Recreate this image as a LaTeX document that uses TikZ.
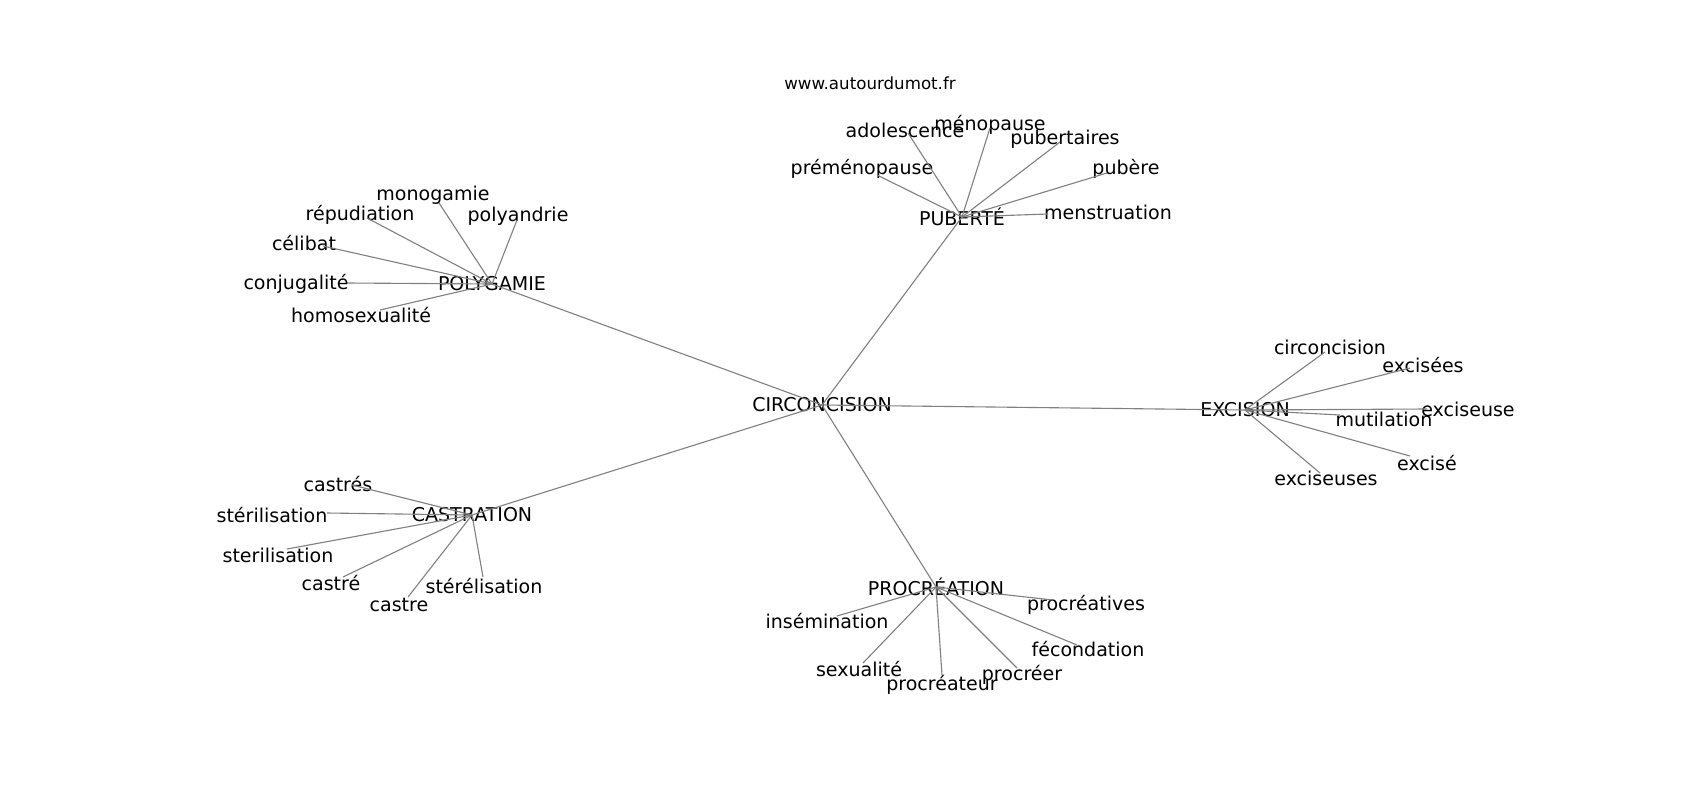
\documentclass[tikz,border=0pt]{standalone}
\usepackage{fontspec}
\setmainfont{DejaVu Sans}
\tikzstyle{word} = [inner sep=0pt, text=black, yshift=-1.4pt, font=\fontsize{13.7}{16}\selectfont]
\tikzstyle{hub} = [inner sep=0pt, text=black, font=\fontsize{13.7}{16}\selectfont]
\tikzstyle{site} = [inner sep=0pt, text=black, font=\fontsize{12}{14}\selectfont]
\tikzstyle{link} = [draw=gray, line width=0.8pt]

\begin{document}
\begin{tikzpicture}[x=0.72pt, y=-0.72pt]
            \useasboundingbox (0,0) rectangle (1700,800);
            % Hubs
            \node[hub] (circoncision) at (822,405) {CIRCONCISION};
            \node[hub] (polygamie) at (492,284) {POLYGAMIE};
            \node[hub] (puberte) at (962,217) {PUBERTÉ};
            \node[hub] (excision) at (1245,410) {EXCISION};
            \node[hub] (castration) at (472,515) {CASTRATION};
            \node[hub] (procreation) at (936,587) {PROCRÉATION};
            \node[site] (www) at (870,83) {www.autourdumot.fr};
            % Word ends
            \coordinate (monogamie) at (439,203);
            \coordinate (repudiation) at (367,218);
            \coordinate (polyandrie) at (517,220);
            \coordinate (celibat) at (323,246);
            \coordinate (conjugalite) at (347,283);
            \coordinate (homosexualite) at (380,310);
            \coordinate (adolescence) at (908,133);
            \coordinate (menopause) at (990,128);
            \coordinate (pubertaires) at (1060,142);
            \coordinate (premenopause) at (877,175);
            \coordinate (pubere) at (1107,173);
            \coordinate (menstruation) at (1048,214);
            \coordinate (circoncision2) at (1325,352);
            \coordinate (excisees) at (1410,368);
            \coordinate (exciseuse) at (1427,409);
            \coordinate (mutilation) at (1340,415);
            \coordinate (excise) at (1410,456);
            \coordinate (exciseuses) at (1320,473);
            \coordinate (castres) at (352,485);
            \coordinate (sterilisation) at (327,513);
            \coordinate (sterilisation2) at (287,549);
            \coordinate (castre) at (343,577);
            \coordinate (sterelisation) at (483,577);
            \coordinate (castre2) at (408,597);
            \coordinate (procreatives) at (1053,600);
            \coordinate (insemination) at (837,616);
            \coordinate (fecondation) at (1077,645);
            \coordinate (sexualite) at (863,663);
            \coordinate (procreer) at (1017,668);
            \coordinate (procreateur) at (942,675);
            % Words
            \node[word] (monogamie-w) at (433,193) {monogamie};
            \node[word] (repudiation-w) at (360,213) {répudiation};
            \node[word] (polyandrie-w) at (518,214) {polyandrie};
            \node[word] (celibat-w) at (304,241) {célibat};
            \node[word] (conjugalite-w) at (296,282) {conjugalité};
            \node[word] (homosexualite-w) at (361,313) {homosexualité};
            \node[word] (adolescence-w) at (905,128) {adolescence};
            \node[word] (menopause-w) at (990,123) {ménopause};
            \node[word] (pubertaires-w) at (1065,137) {pubertaires};
            \node[word] (premenopause-w) at (862,167) {préménopause};
            \node[word] (pubere-w) at (1126,167) {pubère};
            \node[word] (menstruation-w) at (1108,210) {menstruation};
            \node[word] (circoncision2-w) at (1330,345) {circoncision};
            \node[word] (excisees-w) at (1423,363) {excisées};
            \node[word] (exciseuse-w) at (1468,407) {exciseuse};
            \node[word] (mutilation-w) at (1384,417) {mutilation};
            \node[word] (excise-w) at (1427,461) {excisé};
            \node[word] (exciseuses-w) at (1326,476) {exciseuses};
            \node[word] (castres-w) at (338,482) {castrés};
            \node[word] (sterilisation-w) at (272,513) {stérilisation};
            \node[word] (sterilisation2-w) at (278,553) {sterilisation};
            \node[word] (castre-w) at (331,581) {castré};
            \node[word] (sterelisation-w) at (484,584) {stérélisation};
            \node[word] (castre2-w) at (399,603) {castre};
            \node[word] (procreatives-w) at (1086,603) {procréatives};
            \node[word] (insemination-w) at (827,619) {insémination};
            \node[word] (fecondation-w) at (1088,647) {fécondation};
            \node[word] (sexualite-w) at (859,667) {sexualité};
            \node[word] (procreer-w) at (1022,673) {procréer};
            \node[word] (procreateur-w) at (942,683) {procréateur};
            % Links
            \draw[link] (circoncision.center) -- (polygamie.center);
            \draw[link] (circoncision.center) -- (puberte.center);
            \draw[link] (circoncision.center) -- (excision.center);
            \draw[link] (circoncision.center) -- (castration.center);
            \draw[link] (circoncision.center) -- (procreation.center);
            \draw[link] (polygamie.center) -- (monogamie);
            \draw[link] (polygamie.center) -- (repudiation);
            \draw[link] (polygamie.center) -- (polyandrie);
            \draw[link] (polygamie.center) -- (celibat);
            \draw[link] (polygamie.center) -- (conjugalite);
            \draw[link] (polygamie.center) -- (homosexualite);
            \draw[link] (puberte.center) -- (adolescence);
            \draw[link] (puberte.center) -- (menopause);
            \draw[link] (puberte.center) -- (pubertaires);
            \draw[link] (puberte.center) -- (premenopause);
            \draw[link] (puberte.center) -- (pubere);
            \draw[link] (puberte.center) -- (menstruation);
            \draw[link] (excision.center) -- (circoncision2);
            \draw[link] (excision.center) -- (excisees);
            \draw[link] (excision.center) -- (exciseuse);
            \draw[link] (excision.center) -- (mutilation);
            \draw[link] (excision.center) -- (excise);
            \draw[link] (excision.center) -- (exciseuses);
            \draw[link] (castration.center) -- (castres);
            \draw[link] (castration.center) -- (sterilisation);
            \draw[link] (castration.center) -- (sterilisation2);
            \draw[link] (castration.center) -- (castre);
            \draw[link] (castration.center) -- (sterelisation);
            \draw[link] (castration.center) -- (castre2);
            \draw[link] (procreation.center) -- (procreatives);
            \draw[link] (procreation.center) -- (insemination);
            \draw[link] (procreation.center) -- (fecondation);
            \draw[link] (procreation.center) -- (sexualite);
            \draw[link] (procreation.center) -- (procreer);
            \draw[link] (procreation.center) -- (procreateur);
        \end{tikzpicture}
\end{document}
